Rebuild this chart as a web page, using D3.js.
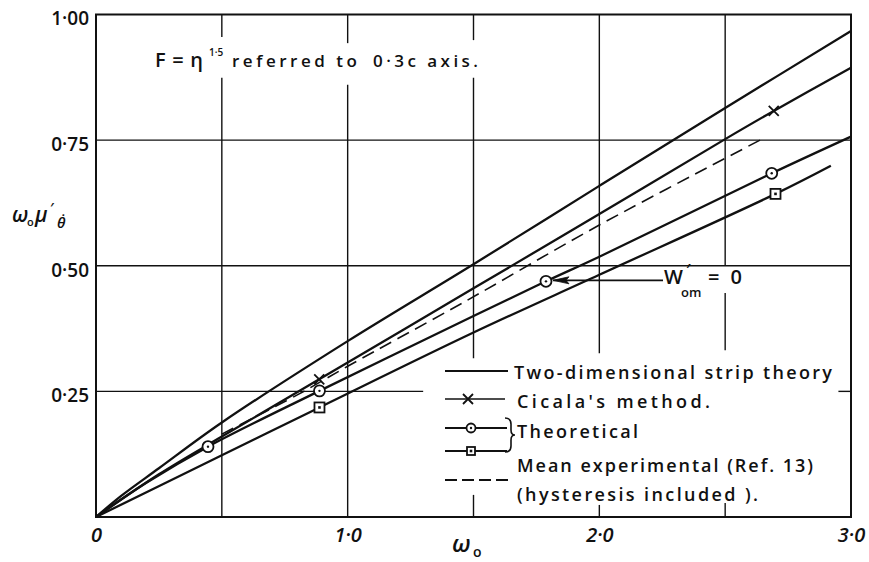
<!DOCTYPE html>
<html>
<head>
<meta charset="utf-8">
<script src="https://cdn.jsdelivr.net/npm/d3@7"></script>
<style>
  html, body { margin: 0; padding: 0; background: #fff; }
  svg { display: block; }
  text { font-family: "Open Sans", "DejaVu Sans", sans-serif; fill: #111; font-weight: 600; }
</style>
</head>
<body>
<div id="chart"></div>
<script>
// ---------------- data ----------------
const stripOmega  = [0, 0.1, 0.25, 0.5, 1.0, 1.5, 2.0, 2.5, 3.0];
const stripValue  = [0, 0.042, 0.097, 0.188, 0.350, 0.503, 0.659, 0.814, 0.967];

const cicalaOmega = [0, 0.25, 0.5, 0.887, 1.5, 2.0, 2.5, 2.693, 3.0];
const cicalaValue = [0, 0.085, 0.160, 0.274, 0.455, 0.603, 0.752, 0.808, 0.894];
const cicalaMarkOmega = [0.887, 2.693];
const cicalaMarkValue = [0.274, 0.808];

const circleOmega = [0, 0.2, 0.445, 0.888, 1.5, 1.788, 2.0, 2.685, 3.0];
const circleValue = [0, 0.068, 0.140, 0.251, 0.400, 0.469, 0.518, 0.684, 0.757];
const circleMarkOmega = [0.445, 0.888, 1.788, 2.685];
const circleMarkValue = [0.140, 0.251, 0.469, 0.684];

const squareOmega = [0, 0.5, 0.888, 1.5, 2.0, 2.70, 2.92];
const squareValue = [0, 0.123, 0.218, 0.367, 0.482, 0.643, 0.699];
const squareMarkOmega = [0.888, 2.70];
const squareMarkValue = [0.218, 0.643];

const meanOmega = [0.5, 0.8, 1.0, 1.46, 2.0, 2.65];
const meanValue = [0.165, 0.243, 0.300, 0.427, 0.581, 0.753];

const xTickValues = [0, 1, 2, 3];
const xTickLabels = ["0", "1·0", "2·0", "3·0"];
const yTickValues = [0.25, 0.5, 0.75, 1.0];
const yTickLabels = ["0·25", "0·50", "0·75", "1·00"];

const legendLabels = ["Two-dimensional strip theory", "Cicala's  method.", "Theoretical",
                      "Mean experimental (Ref. 13)", "(hysteresis included )."];

// ---------------- drawing ----------------
const W = 869, H = 562;
const svg = d3.select("#chart").append("svg").attr("width", W).attr("height", H);
svg.append("rect").attr("width", W).attr("height", H).attr("fill", "#fff");

const x = d3.scaleLinear().domain([0, 3]).range([96, 851]);
const y = d3.scaleLinear().domain([0, 1]).range([517, 14.5]);
const ink = "#111";

// grid segments (in data units), with the gaps left for lettering
const gridV = [
  {w: 0.5, segs: [[0.955, 1], [0, 0.874]]},
  {w: 1.0, segs: [[0.943, 1], [0, 0.86]]},
  {w: 1.5, segs: [[0.949, 1], [0.316, 0.874], [0, 0.044]]},
  {w: 2.0, segs: [[0.326, 1], [0, 0.024]]},
  {w: 2.5, segs: [[0.5, 1], [0.332, 0.446], [0, 0.028]]}
];
const gridH = [
  {v: 0.25, segs: [[0, 1.30], [2.95, 3]]},
  {v: 0.5, segs: [[0, 3]]},
  {v: 0.75, segs: [[0, 3]]}
];
const g = svg.append("g");
gridV.forEach(d => d.segs.forEach(s => {
  g.append("line").attr("x1", x(d.w)).attr("x2", x(d.w)).attr("y1", y(s[0])).attr("y2", y(s[1]))
    .attr("stroke", ink).attr("stroke-width", 1.4);
}));
gridH.forEach(d => d.segs.forEach(s => {
  g.append("line").attr("x1", x(s[0])).attr("x2", x(s[1])).attr("y1", y(d.v)).attr("y2", y(d.v))
    .attr("stroke", ink).attr("stroke-width", 1.4);
}));

// frame
svg.append("rect").attr("x", x(0)).attr("y", y(1)).attr("width", x(3) - x(0)).attr("height", y(0) - y(1))
  .attr("fill", "none").attr("stroke", ink).attr("stroke-width", 2);

// axes tick labels
const xAxis = d3.axisBottom(x).tickValues(xTickValues).tickSize(0).tickPadding(11)
  .tickFormat((d, i) => xTickLabels[i]);
const gx = svg.append("g").attr("transform", `translate(0,${y(0)})`).call(xAxis);
gx.select(".domain").remove();
gx.selectAll("text").attr("font-size", 20).attr("font-style", "italic").attr("font-weight", 600)
  .attr("font-family", "'Open Sans', sans-serif").attr("fill", ink);

const yAxis = d3.axisLeft(y).tickValues(yTickValues).tickSize(0).tickPadding(7)
  .tickFormat((d, i) => yTickLabels[i]);
const gy = svg.append("g").attr("transform", `translate(${x(0)},0)`).call(yAxis);
gy.select(".domain").remove();
gy.selectAll("text").attr("font-size", 19).attr("dy", "0.55em").attr("font-weight", 600)
  .attr("font-family", "'Open Sans', sans-serif").attr("fill", ink);

// curves
const line = d3.line().x(d => x(d[0])).y(d => y(d[1])).curve(d3.curveCatmullRom.alpha(0.5));
const zip = (a, b) => a.map((v, i) => [v, b[i]]);
const curves = [
  {o: stripOmega, v: stripValue, dash: null},
  {o: cicalaOmega, v: cicalaValue, dash: null},
  {o: circleOmega, v: circleValue, dash: null},
  {o: squareOmega, v: squareValue, dash: null},
  {o: meanOmega, v: meanValue, dash: "13,7"}
];
curves.forEach(c => {
  svg.append("path").attr("d", line(zip(c.o, c.v))).attr("fill", "none")
    .attr("stroke", ink).attr("stroke-width", c.dash ? 1.6 : 2.3)
    .attr("stroke-dasharray", c.dash);
});

// markers
function crossMark(px, py) {
  svg.append("path").attr("d", `M${px-5},${py-5}L${px+5},${py+5}M${px-5},${py+5}L${px+5},${py-5}`)
    .attr("stroke", ink).attr("stroke-width", 1.8);
}
function circleMark(px, py, r = 5.5) {
  svg.append("circle").attr("cx", px).attr("cy", py).attr("r", r)
    .attr("fill", "#fff").attr("stroke", ink).attr("stroke-width", 1.8);
  svg.append("circle").attr("cx", px).attr("cy", py).attr("r", 1.2).attr("fill", ink);
}
function squareMark(px, py, s = 10) {
  svg.append("rect").attr("x", px - s / 2).attr("y", py - s / 2).attr("width", s).attr("height", s)
    .attr("fill", "#fff").attr("stroke", ink).attr("stroke-width", 1.8);
  svg.append("rect").attr("x", px - 1.3).attr("y", py - 1.3).attr("width", 2.6).attr("height", 2.6).attr("fill", ink);
}
cicalaMarkOmega.forEach((o, i) => crossMark(x(o), y(cicalaMarkValue[i])));
circleMarkOmega.forEach((o, i) => circleMark(x(o), y(circleMarkValue[i])));
squareMarkOmega.forEach((o, i) => squareMark(x(o), y(squareMarkValue[i])));

// W'om = 0 annotation with arrow
const ax0 = x(circleMarkOmega[2]) + 7, ay = y(circleMarkValue[2]) - 1;
svg.append("line").attr("x1", ax0).attr("x2", 663).attr("y1", ay).attr("y2", ay)
  .attr("stroke", ink).attr("stroke-width", 1.6);
svg.append("path").attr("d", `M${ax0},${ay}L${ax0 + 16},${ay - 3.5}L${ax0 + 13},${ay}L${ax0 + 16},${ay + 3.5}Z`)
  .attr("fill", ink).attr("stroke", ink).attr("stroke-width", 0.8);
svg.append("text").attr("x", 664).attr("y", 284).attr("font-size", 20).attr("font-weight", 500).text("W");
svg.append("text").attr("x", 686).attr("y", 276).attr("font-size", 17).text("′");
svg.append("text").attr("x", 681).attr("y", 297).attr("font-size", 13).text("om");
svg.append("text").attr("x", 708).attr("y", 284).attr("font-size", 20).attr("textLength", 34).text("= 0");

// top annotation
svg.append("text").attr("x", 155).attr("y", 67).attr("font-size", 20).attr("textLength", 48).text("F = η");
svg.append("text").attr("x", 209).attr("y", 56).attr("font-size", 10).text("1·5");
svg.append("text").attr("x", 232).attr("y", 67).attr("font-size", 17).attr("textLength", 125).text("referred to");
svg.append("text").attr("x", 373).attr("y", 67).attr("font-size", 17).attr("textLength", 105).text("0·3c  axis.");

// axis titles
svg.append("text").attr("x", 452).attr("y", 552).attr("font-size", 24).attr("font-style", "italic").text("ω");
svg.append("text").attr("x", 473).attr("y", 557).attr("font-size", 14).text("o");
svg.append("text").attr("x", 12).attr("y", 222).attr("font-size", 21).attr("font-style", "italic").text("ω");
svg.append("text").attr("x", 27).attr("y", 226).attr("font-size", 11).text("o");
svg.append("text").attr("x", 35).attr("y", 222).attr("font-size", 21).attr("font-style", "italic").text("μ");
svg.append("text").attr("x", 50).attr("y", 213).attr("font-size", 15).text("′");
svg.append("text").attr("x", 57).attr("y", 228).attr("font-size", 15).attr("font-style", "italic").text("θ̇");

// legend
const lg = svg.append("g");
const lx0 = 445;
lg.append("line").attr("x1", lx0).attr("x2", 508).attr("y1", 371).attr("y2", 371).attr("stroke", ink).attr("stroke-width", 2);
lg.append("line").attr("x1", lx0).attr("x2", 505).attr("y1", 399).attr("y2", 399).attr("stroke", ink).attr("stroke-width", 1.6);
crossMark(468, 399);
lg.append("line").attr("x1", lx0).attr("x2", 507).attr("y1", 428).attr("y2", 428).attr("stroke", ink).attr("stroke-width", 1.8);
circleMark(471, 428, 4.5);
lg.append("line").attr("x1", lx0).attr("x2", 507).attr("y1", 451).attr("y2", 451).attr("stroke", ink).attr("stroke-width", 1.8);
squareMark(471, 451, 8);
lg.append("path").attr("d", "M505,418Q511,418 511,424L511,430Q511,435 515,435Q511,435 511,440L511,446Q511,452 505,452")
  .attr("fill", "none").attr("stroke", ink).attr("stroke-width", 1.6);
lg.append("line").attr("x1", lx0).attr("x2", 510).attr("y1", 480).attr("y2", 480).attr("stroke", ink)
  .attr("stroke-width", 1.8).attr("stroke-dasharray", "12,5");

const legendPos = [
  {x: 514, y: 379, len: 318},
  {x: 517, y: 408, len: 193},
  {x: 517, y: 438, len: 121},
  {x: 517, y: 472, len: 296},
  {x: 517, y: 501, len: 241}
];
legendLabels.forEach((t, i) => {
  lg.append("text").attr("x", legendPos[i].x).attr("y", legendPos[i].y).attr("font-size", 18)
    .attr("textLength", legendPos[i].len).attr("lengthAdjust", "spacing").text(t);
});
</script>
</body>
</html>
